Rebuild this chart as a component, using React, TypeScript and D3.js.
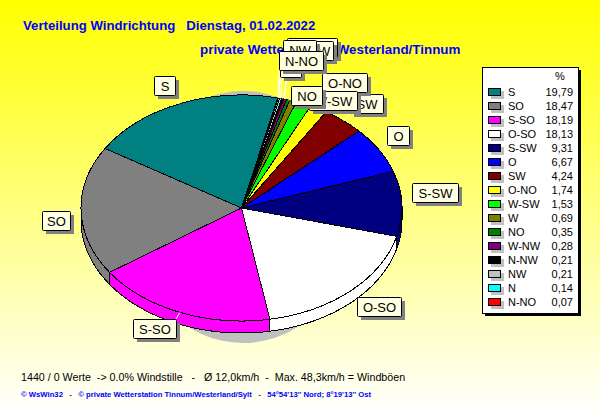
import React from 'react';
import * as d3 from 'd3';

const directions = ['S', 'SO', 'S-SO', 'O-SO', 'S-SW', 'O', 'SW', 'O-NO', 'W-SW', 'W', 'NO', 'W-NW', 'N-NW', 'NW', 'N', 'N-NO'];
const percents = [19.79, 18.47, 18.19, 18.13, 9.31, 6.67, 4.24, 1.74, 1.53, 0.69, 0.35, 0.28, 0.21, 0.21, 0.14, 0.07];
const percentLabels = ['19,79', '18,47', '18,19', '18,13', '9,31', '6,67', '4,24', '1,74', '1,53', '0,69', '0,35', '0,28', '0,21', '0,21', '0,14', '0,07'];
const sliceColors = ['#008080', '#808080', '#ff00ff', '#ffffff', '#000080', '#0000ff', '#800000', '#ffff00', '#00ff00', '#808000', '#008000', '#800080', '#000000', '#c0c0c0', '#00ffff', '#ff0000'];

// label boxes, painted in this order (later ones cover earlier ones)
const labelBoxes: [string, number, number, number][] = [
  ['S', 154, 76, 21],
  ['SO', 42, 211, 28],
  ['S-SO', 133, 319, 43],
  ['O-SO', 357, 297, 44],
  ['S-SW', 412, 183, 46],
  ['O', 387, 126, 22],
  ['SW', 350, 94, 33],
  ['O-NO', 322, 73, 45],
  ['W-SW', 309, 91, 48],
  ['W', 296, 86, 24],
  ['NO', 291, 86, 31],
  ['W-NW', 287, 38, 50],
  ['N-NW', 291, 41, 42],
  ['NW', 283, 40, 33],
  ['N', 280, 58, 21],
  ['N-NO', 279, 51, 44],
];

const W = 600;
const H = 415;
const cx = 241.5;
const cy = 208;
const rx = 160.5;
const ry = 113;
const depth = 12;
const labelH = 19;
const font = '"Liberation Sans", Arial, sans-serif';

const pie = d3
  .pie<number>()
  .sort(null)
  .startAngle((13 * Math.PI) / 180)
  .endAngle((13 * Math.PI) / 180 - 2 * Math.PI);
const slices = pie(percents);
const arc = d3.arc<d3.PieArcDatum<number>>().innerRadius(0).outerRadius(rx);

const edge = (a: number, dy = 0): [number, number] => [cx + rx * Math.sin(a), cy + dy - ry * Math.cos(a)];

// side wall of a slice, only the part on the front half of the ellipse
const wallPath = (s: d3.PieArcDatum<number>) => {
  const lo = Math.max(s.endAngle, -1.5 * Math.PI);
  const hi = Math.min(s.startAngle, -0.5 * Math.PI);
  if (hi <= lo) return null;
  const n = 40;
  const angles = d3.range(n + 1).map(i => lo + ((hi - lo) * i) / n);
  const pts = [...angles.map(a => edge(a)), ...angles.reverse().map(a => edge(a, depth))];
  return d3.line()(pts) + 'Z';
};

const legendY = d3.scalePoint<string>().domain(directions).range([92, 302]);

const App: React.FC = () => {
  return (
    <svg width={W} height={H} viewBox={`0 0 ${W} ${H}`} style={{ position: 'absolute', left: 0, top: 0 }} fontFamily={font}>
      <defs>
        <linearGradient id="bg" x1="0" y1="0" x2="0" y2="1">
          <stop offset="0" stopColor="#ffff00" />
          <stop offset="1" stopColor="#ffffff" />
        </linearGradient>
      </defs>
      <rect width={W} height={H} fill="url(#bg)" />

      <text x={23} y={30} fill="#0000ff" fontSize={13.2} fontWeight="bold" style={{ whiteSpace: 'pre' }}>
        {'Verteilung Windrichtung   Dienstag, 01.02.2022'}
      </text>
      <text x={200} y={54} fill="#0000ff" fontSize={13.4} fontWeight="bold">
        private Wetterstation Westerland/Tinnum
      </text>

      {/* drop shadow of the pie */}
      <ellipse cx={243} cy={217} rx={112} ry={126} fill="#c0c0c0" />

      <g shapeRendering="crispEdges">
        {slices.map((s, i) => {
          const d = wallPath(s);
          return d ? <path key={i} d={d} fill={sliceColors[i]} stroke="#000" /> : null;
        })}
        <g transform={`translate(${cx},${cy}) scale(1,${ry / rx})`}>
          {slices.map((s, i) => (
            <path key={i} d={arc(s) as string} fill={sliceColors[i]} stroke="#000" vectorEffect="non-scaling-stroke" />
          ))}
        </g>
      </g>

      {/* leader lines from the rim to the label boxes */}
      {labelBoxes.map(([name, x, y, w]) => {
        const s = slices[directions.indexOf(name)];
        const [x0, y0] = edge((s.startAngle + s.endAngle) / 2);
        return (
          <line key={name} x1={x0} y1={y0} x2={Math.max(x, Math.min(x + w, x0))} y2={Math.max(y, Math.min(y + labelH, y0))} stroke="#fff" />
        );
      })}

      {labelBoxes.map(([name, x, y, w]) => (
        <g key={name}>
          <rect x={x + 4} y={y + 4} width={w} height={labelH} fill="#808080" />
          <rect x={x + 0.5} y={y + 0.5} width={w} height={labelH} rx={1} fill="#ffffe1" stroke="#000" />
          <text x={x + w / 2 + 0.5} y={y + 14.5} textAnchor="middle" fontSize={13} fill="#000">
            {name}
          </text>
        </g>
      ))}

      {/* legend */}
      <rect x={485} y={70} width={96} height={246} fill="#000" />
      <rect x={482.5} y={67.5} width={96} height={246} fill="#ffffff" stroke="#000" />
      <text x={560} y={80} textAnchor="middle" fontSize={11}>%</text>
      {directions.map((name, i) => {
        const y = legendY(name) as number;
        return (
          <g key={name}>
            <rect x={491} y={y - 1} width={13} height={8} fill="#c0c0c0" />
            <rect x={488.5} y={y - 3.5} width={12} height={7} fill={sliceColors[i]} stroke="#000" />
            <text x={508} y={y + 4} fontSize={11}>{name}</text>
            <text x={573} y={y + 4} fontSize={11} textAnchor="end">{percentLabels[i]}</text>
          </g>
        );
      })}

      <text x={21} y={381} fontSize={10.7} fill="#000" style={{ whiteSpace: 'pre' }}>
        {'1440 / 0 Werte  -> 0.0% Windstille   -   Ø 12,0km/h  -  Max. 48,3km/h = Windböen'}
      </text>
      <text x={21} y={397} fontSize={7.7} fontWeight="bold" fill="#0000ff" style={{ whiteSpace: 'pre' }}>
        {"© WsWin32   -   © private Wetterstation Tinnum/Westerland/Sylt   -   54°54'13'' Nord; 8°19'13'' Ost"}
      </text>
    </svg>
  );
};

export default App;
